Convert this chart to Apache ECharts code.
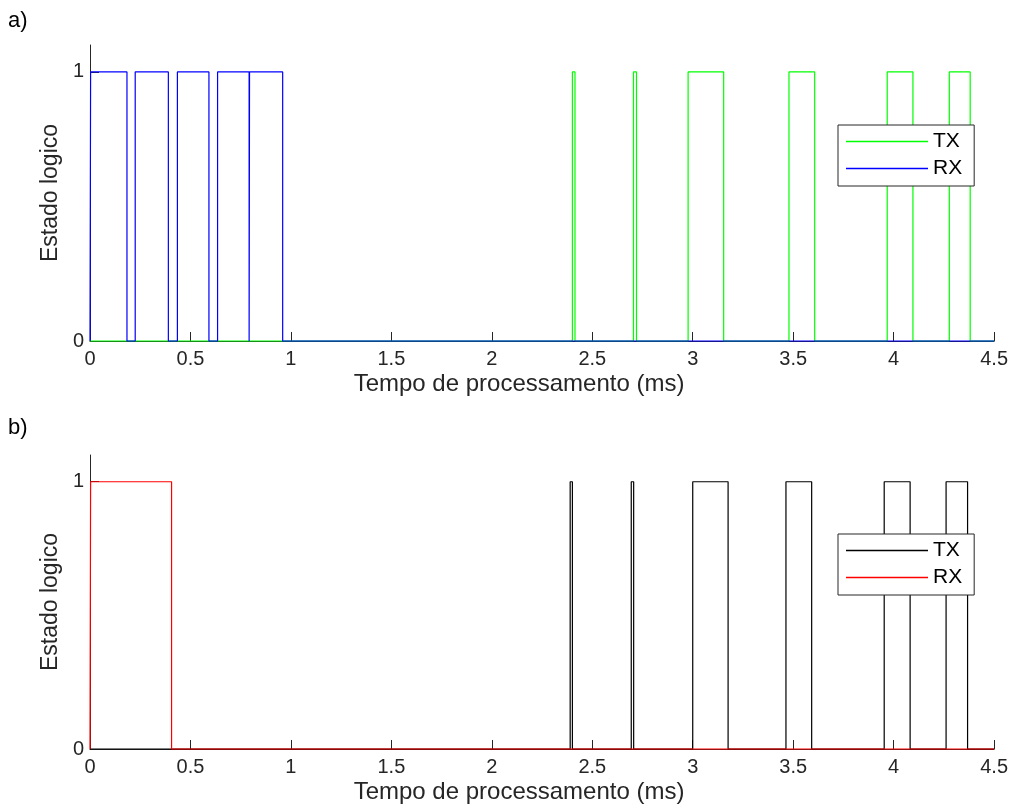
<!DOCTYPE html>
<html>
<head>
<meta charset="utf-8">
<script src="https://cdn.jsdelivr.net/npm/echarts/dist/echarts.min.js"></script>
<style>
  html, body { margin: 0; padding: 0; background: #fff; }
  #chart { width: 1011px; height: 809px; }
</style>
</head>
<body>
<div id="chart"></div>
<script>
// pulse edges (ms)
const rxRiseA = [0.003, 0.225, 0.435, 0.635, 0.794];
const rxFallA = [0.184, 0.390, 0.592, 0.792, 0.959];
const txRiseA = [2.401, 2.705, 2.977, 3.479, 3.968, 4.277];
const txFallA = [2.414, 2.720, 3.154, 3.607, 4.096, 4.381];

const rxRiseB = [0.003];
const rxFallB = [0.406];
const txRiseB = [2.390, 2.694, 3.000, 3.464, 3.953, 4.261];
const txFallB = [2.401, 2.706, 3.176, 3.592, 4.082, 4.368];

const tMax = 4.5;
const yTicks = [0, 1];

const FONT = "Liberation Sans";
const AX = "#262626";

// square wave: low -> high at rise, high -> low at fall
function steps(rise, fall) {
    const pts = [[0, 0]];
    rise.forEach((r, i) => {
        pts.push([r, 0], [r, 1], [fall[i], 1], [fall[i], 0]);
    });
    pts.push([tMax, 0]);
    return pts;
}

function xAxisOf(idx) {
    return {
        gridIndex: idx,
        type: "value",
        min: 0,
        max: tMax,
        interval: 0.5,
        axisLine: { lineStyle: { color: AX, width: 1 } },
        axisTick: { inside: true, length: 9, lineStyle: { color: AX } },
        axisLabel: { fontSize: 20, color: AX, margin: 8, fontFamily: FONT },
        splitLine: { show: false },
        name: "Tempo de processamento (ms)",
        nameLocation: "middle",
        nameGap: 31,
        nameTextStyle: { fontSize: 24, color: AX, fontFamily: FONT, padding: [0, 46, 0, 0] }
    };
}

function yAxisOf(idx) {
    return {
        gridIndex: idx,
        type: "value",
        min: 0,
        max: 1.1,
        axisLine: { show: true, onZero: false, lineStyle: { color: AX, width: 1 } },
        axisTick: { show: true, inside: true, length: 9, customValues: yTicks, lineStyle: { color: AX } },
        axisLabel: { fontSize: 20, color: AX, margin: 6, fontFamily: FONT, customValues: yTicks },
        splitLine: { show: false },
        name: "Estado logico",
        nameLocation: "middle",
        nameGap: 24,
        nameTextStyle: { fontSize: 23, color: AX, fontFamily: FONT }
    };
}

function legendOf(top, names) {
    return {
        data: names,
        orient: "vertical",
        left: 838,
        top: top,
        icon: "rect",
        itemWidth: 82,
        itemHeight: 1.5,
        itemGap: 6,
        padding: [6, 12, 7, 8],
        borderColor: AX,
        borderWidth: 1,
        backgroundColor: "#fff",
        selectedMode: false,
        formatter: n => n.split("_")[0],
        textStyle: { fontSize: 21, color: "#000", fontFamily: FONT, lineHeight: 21 }
    };
}

function lineSeries(name, idx, color, data) {
    return {
        name: name,
        type: "line",
        xAxisIndex: idx,
        yAxisIndex: idx,
        data: data,
        symbol: "none",
        clip: false,
        lineStyle: { color: color, width: 1.2 },
        itemStyle: { color: color }
    };
}

const chart = echarts.init(document.getElementById("chart"));
chart.setOption({
    animation: false,
    backgroundColor: "#fff",
    title: [
        { text: "a)", left: 8, top: 10, padding: 0, textStyle: { fontSize: 22, fontWeight: "normal", color: "#000", fontFamily: FONT } },
        { text: "b)", left: 8, top: 417, padding: 0, textStyle: { fontSize: 22, fontWeight: "normal", color: "#000", fontFamily: FONT } }
    ],
    grid: [
        { left: 90, right: 15, top: 45, height: 296 },
        { left: 90, right: 15, top: 455, height: 294 }
    ],
    xAxis: [xAxisOf(0), xAxisOf(1)],
    yAxis: [yAxisOf(0), yAxisOf(1)],
    legend: [
        legendOf(125, ["TX_a", "RX_a"]),
        legendOf(534, ["TX_b", "RX_b"])
    ],
    series: [
        lineSeries("TX_a", 0, "#00ff00", steps(txRiseA, txFallA)),
        lineSeries("RX_a", 0, "#0000ff", steps(rxRiseA, rxFallA)),
        lineSeries("TX_b", 1, "#000000", steps(txRiseB, txFallB)),
        lineSeries("RX_b", 1, "#ff0000", steps(rxRiseB, rxFallB))
    ]
});
</script>
</body>
</html>
